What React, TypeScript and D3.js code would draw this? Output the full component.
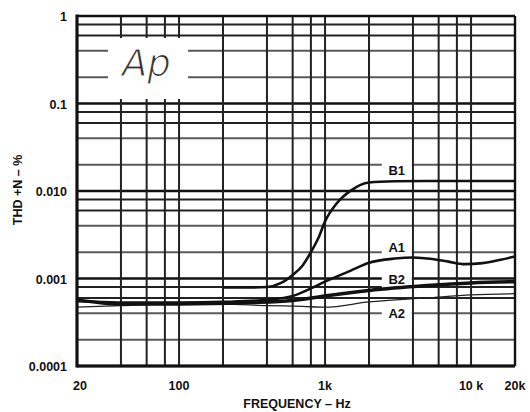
import React from "react";
import * as d3 from "d3";

const W = 530;
const H = 412;

// Data (frequency in Hz, THD+N in %)
const b1Freq = [200, 300, 400, 500, 600, 700, 800, 900, 1000, 1200, 1500, 2000, 3000, 5000, 10000, 20000];
const b1Val = [0.00079, 0.00079, 0.0008, 0.00089, 0.0011, 0.0014, 0.002, 0.0029, 0.0045, 0.0072, 0.0101, 0.0125, 0.0129, 0.013, 0.013, 0.013];

const a1Freq = [20, 50, 100, 200, 400, 600, 800, 1000, 1500, 2000, 3000, 4000, 5000, 7000, 9000, 12000, 16000, 20000];
const a1Val = [0.00055, 0.00053, 0.00053, 0.00054, 0.00057, 0.00063, 0.00077, 0.00092, 0.00123, 0.00151, 0.00169, 0.00174, 0.00169, 0.00156, 0.00146, 0.0015, 0.00164, 0.00178];

const b2Freq = [20, 40, 100, 300, 600, 1000, 2000, 5000, 10000, 20000];
const b2Val = [0.00057, 0.00051, 0.00051, 0.00053, 0.00056, 0.00063, 0.00073, 0.00083, 0.00089, 0.00092];

const a2Freq = [20, 40, 100, 200, 400, 700, 1000, 2000, 5000, 10000, 20000];
const a2Val = [0.00047, 0.00049, 0.00051, 0.00051, 0.00049, 0.00048, 0.00047, 0.00054, 0.0006, 0.00065, 0.00067];

const xTicks = [20, 100, 1000, 10000, 20000];
const xTickLabels = ["20", "100", "1k", "10 k", "20k"];
const yTicks = [1, 0.1, 0.01, 0.001, 0.0001];
const yTickLabels = ["1", "0.1", "0.010", "0.001", "0.0001"];

const vGrid = [40, 60, 80, 100, 200, 400, 600, 800, 1000, 2000, 4000, 6000, 8000, 10000];
const hDecades = [0.0001, 0.001, 0.01, 0.1];
const hMults = [1, 2, 4, 6, 8];

const curveLabels = [
  { name: "B1", f: 3100, v: 0.0172 },
  { name: "A1", f: 3100, v: 0.0023 },
  { name: "B2", f: 3100, v: 0.00099 },
  { name: "A2", f: 3100, v: 0.000405 },
];

const left = 77;
const right = 515;
const top = 16;
const bottom = 366;

export default function App() {
  const x = d3.scaleLog().domain([20, 20000]).range([left, right]);
  const y = d3.scaleLog().domain([0.0001, 1]).range([bottom, top]);

  const line = d3
    .line<[number, number]>()
    .x((d) => x(d[0]))
    .y((d) => y(d[1]))
    .curve(d3.curveMonotoneX);

  const zip = (fs: number[], vs: number[]) => fs.map((f, i) => [f, vs[i]] as [number, number]);

  const hLines: { v: number; kind: number }[] = [];
  hDecades.forEach((d) => {
    hMults.forEach((m) => {
      const v = d * m;
      if (v < 1) hLines.push({ v, kind: m === 1 ? 0 : m >= 6 ? 1 : 2 });
    });
  });

  const bold = { fontFamily: "Liberation Sans, Arial, sans-serif", fontWeight: 700 as const, fill: "#111" };

  return (
    <svg width={W} height={H} style={{ position: "absolute", left: 0, top: 0, background: "#fff" }}>
      <rect x={0} y={0} width={W} height={H} fill="#fff" />
      {/* horizontal grid */}
      {hLines.map((h, i) => (
        <line
          key={"h" + i}
          x1={left}
          x2={right}
          y1={y(h.v)}
          y2={y(h.v)}
          stroke={h.kind === 0 ? "#111" : h.kind === 1 ? "#222" : "#5a5a5a"}
          strokeWidth={h.kind === 0 ? 2.4 : 2}
        />
      ))}
      {/* vertical grid */}
      {vGrid.map((f, i) => (
        <line key={"v" + i} x1={x(f)} x2={x(f)} y1={top} y2={bottom} stroke="#222" strokeWidth={2} />
      ))}
      {/* Ap box */}
      <rect x={108} y={38} width={80} height={61} fill="#fff" />
      <text
        x={122}
        y={76}
        fontSize={37}
        fontStyle="italic"
        fontFamily="DejaVu Sans, sans-serif"
        fill="#333"
        stroke="#fff"
        strokeWidth={1.1}
      >
        Ap
      </text>
      {/* curve label backgrounds */}
      {curveLabels.map((c) => (
        <rect key={"bg" + c.name} x={x(c.f) - 15} y={y(c.v) - 9} width={30} height={18} fill="#fff" />
      ))}
      {/* curves */}
      <path d={line(zip(a2Freq, a2Val)) || ""} fill="none" stroke="#222" strokeWidth={1.3} />
      <path d={line(zip(b2Freq, b2Val)) || ""} fill="none" stroke="#111" strokeWidth={3.5} />
      <path d={line(zip(a1Freq, a1Val)) || ""} fill="none" stroke="#111" strokeWidth={2.6} />
      <path d={line(zip(b1Freq, b1Val)) || ""} fill="none" stroke="#111" strokeWidth={2.6} />
      {/* curve labels */}
      {curveLabels.map((c) => (
        <text key={c.name} x={x(c.f)} y={y(c.v) + 5} textAnchor="middle" fontSize={13} {...bold}>
          {c.name}
        </text>
      ))}
      {/* frame */}
      <line x1={left} x2={right} y1={top} y2={top} stroke="#111" strokeWidth={2.4} />
      <line x1={right} x2={right} y1={top} y2={bottom} stroke="#111" strokeWidth={2.4} />
      <line x1={left} x2={left} y1={top - 1.5} y2={bottom + 1.5} stroke="#111" strokeWidth={3.2} />
      <line x1={left} x2={right} y1={bottom} y2={bottom} stroke="#111" strokeWidth={3.2} />
      {/* y tick labels */}
      {yTicks.map((v, i) => (
        <text key={"yt" + i} x={67} y={y(v) + 5} textAnchor="end" fontSize={12.5} {...bold}>
          {yTickLabels[i]}
        </text>
      ))}
      {/* x tick labels */}
      {xTicks.map((f, i) => (
        <text key={"xt" + i} x={x(f) + (i === 0 ? 3 : 0)} y={390} textAnchor="middle" fontSize={12.5} {...bold}>
          {xTickLabels[i]}
        </text>
      ))}
      <text x={297} y={408} textAnchor="middle" fontSize={12.5} {...bold}>
        FREQUENCY – Hz
      </text>
      <text transform="translate(22,190) rotate(-90)" textAnchor="middle" fontSize={12.5} {...bold}>
        THD +N – %
      </text>
    </svg>
  );
}
